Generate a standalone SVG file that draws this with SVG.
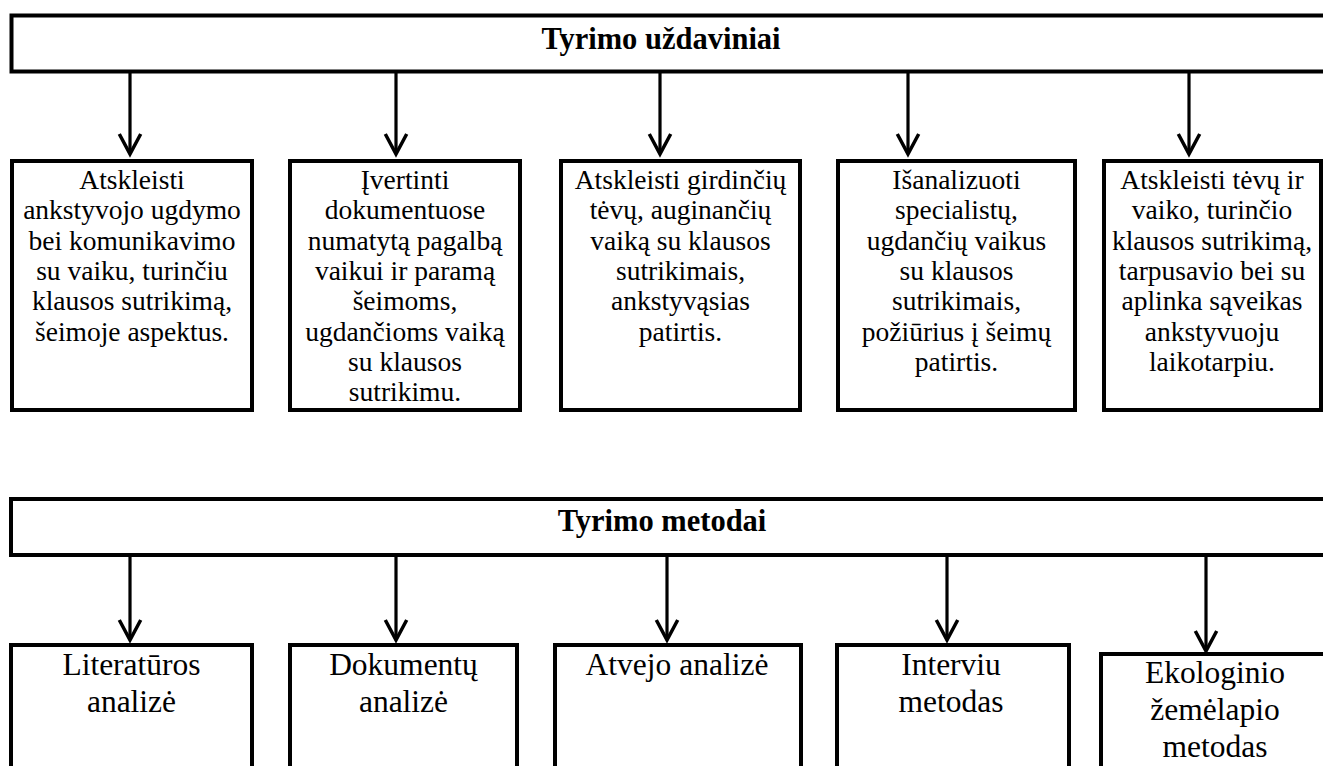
<svg xmlns="http://www.w3.org/2000/svg" width="1323" height="766" viewBox="0 0 1323 766">
<style>
.box{fill:#fff;stroke:#000;stroke-width:4}
.con{stroke:#000;stroke-width:3.2;fill:none}
.hd{font-family:"Liberation Serif","Times New Roman",serif;font-weight:bold;font-size:30.5px;text-anchor:middle;fill:#000}
.t{font-family:"Liberation Serif","Times New Roman",serif;font-size:27.5px;text-anchor:middle;fill:#000}
.m{font-family:"Liberation Serif","Times New Roman",serif;font-size:31.5px;text-anchor:middle;fill:#000}
</style>
<defs>
<marker id="ah" markerUnits="userSpaceOnUse" orient="auto" refX="0" refY="0" markerWidth="30" markerHeight="30" viewBox="-25 -15 30 30" overflow="visible">
<path d="M-20,-10.7 L0,0 L-20,10.7" fill="none" stroke="#000" stroke-width="3.5" stroke-linejoin="miter"/>
</marker>
</defs>
<rect width="1323" height="766" fill="#fff"/>

<g id="connectors">
<line class="con" x1="130" y1="73" x2="130" y2="154" marker-end="url(#ah)"/>
<line class="con" x1="396" y1="73" x2="396" y2="154" marker-end="url(#ah)"/>
<line class="con" x1="660" y1="73" x2="660" y2="154" marker-end="url(#ah)"/>
<line class="con" x1="908" y1="73" x2="908" y2="154" marker-end="url(#ah)"/>
<line class="con" x1="1189" y1="73" x2="1189" y2="154" marker-end="url(#ah)"/>
<line class="con" x1="130" y1="557" x2="130" y2="640" marker-end="url(#ah)"/>
<line class="con" x1="396" y1="557" x2="396" y2="640" marker-end="url(#ah)"/>
<line class="con" x1="667" y1="557" x2="667" y2="640" marker-end="url(#ah)"/>
<line class="con" x1="947" y1="557" x2="947" y2="640" marker-end="url(#ah)"/>
<line class="con" x1="1206" y1="557" x2="1206" y2="651" marker-end="url(#ah)"/>
</g>

<g id="hdr-tasks">
<rect class="box" x="11.5" y="15.5" width="1330" height="56"/>
<text class="hd" x="661" y="49">Tyrimo uždaviniai</text>
</g>

<g id="task1">
<rect class="box" x="12" y="161" width="240" height="249"/>
<text class="t" y="189"><tspan x="132">Atskleisti</tspan><tspan x="132" dy="30.3">ankstyvojo ugdymo</tspan><tspan x="132" dy="30.3">bei komunikavimo</tspan><tspan x="132" dy="30.3">su vaiku, turinčiu</tspan><tspan x="132" dy="30.3">klausos sutrikimą,</tspan><tspan x="132" dy="30.3">šeimoje aspektus.</tspan></text>
</g>

<g id="task2">
<rect class="box" x="290" y="161" width="230" height="249"/>
<text class="t" y="189"><tspan x="405">Įvertinti</tspan><tspan x="405" dy="30.3">dokumentuose</tspan><tspan x="405" dy="30.3">numatytą pagalbą</tspan><tspan x="405" dy="30.3">vaikui ir paramą</tspan><tspan x="405" dy="30.3">šeimoms,</tspan><tspan x="405" dy="30.3">ugdančioms vaiką</tspan><tspan x="405" dy="30.3">su klausos</tspan><tspan x="405" dy="30.3">sutrikimu.</tspan></text>
</g>

<g id="task3">
<rect class="box" x="561" y="161" width="239" height="249"/>
<text class="t" y="189"><tspan x="680.5">Atskleisti girdinčių</tspan><tspan x="680.5" dy="30.3">tėvų, auginančių</tspan><tspan x="680.5" dy="30.3">vaiką su klausos</tspan><tspan x="680.5" dy="30.3">sutrikimais,</tspan><tspan x="680.5" dy="30.3">ankstyvąsias</tspan><tspan x="680.5" dy="30.3">patirtis.</tspan></text>
</g>

<g id="task4">
<rect class="box" x="838" y="161" width="237" height="249"/>
<text class="t" y="189"><tspan x="956.5">Išanalizuoti</tspan><tspan x="956.5" dy="30.3">specialistų,</tspan><tspan x="956.5" dy="30.3">ugdančių vaikus</tspan><tspan x="956.5" dy="30.3">su klausos</tspan><tspan x="956.5" dy="30.3">sutrikimais,</tspan><tspan x="956.5" dy="30.3">požiūrius į šeimų</tspan><tspan x="956.5" dy="30.3">patirtis.</tspan></text>
</g>

<g id="task5">
<rect class="box" x="1104" y="161" width="217" height="249"/>
<text class="t" y="189"><tspan x="1212">Atskleisti tėvų ir</tspan><tspan x="1212" dy="30.3">vaiko, turinčio</tspan><tspan x="1212" dy="30.3">klausos sutrikimą,</tspan><tspan x="1212" dy="30.3">tarpusavio bei su</tspan><tspan x="1212" dy="30.3">aplinka sąveikas</tspan><tspan x="1212" dy="30.3">ankstyvuoju</tspan><tspan x="1212" dy="30.3">laikotarpiu.</tspan></text>
</g>

<g id="hdr-methods">
<rect class="box" x="11" y="499" width="1330" height="56"/>
<text class="hd" x="662" y="531">Tyrimo metodai</text>
</g>

<g id="method1">
<rect class="box" x="11" y="645" width="241" height="140"/>
<text class="m" y="675"><tspan x="131.5">Literatūros</tspan><tspan x="131.5" dy="37">analizė</tspan></text>
</g>

<g id="method2">
<rect class="box" x="290" y="645" width="227" height="140"/>
<text class="m" y="675"><tspan x="403.5">Dokumentų</tspan><tspan x="403.5" dy="37">analizė</tspan></text>
</g>

<g id="method3">
<rect class="box" x="555" y="645" width="246" height="140"/>
<text class="m" x="677" y="675">Atvejo analizė</text>
</g>

<g id="method4">
<rect class="box" x="837" y="645" width="232" height="140"/>
<text class="m" y="675"><tspan x="951">Interviu</tspan><tspan x="951" dy="37">metodas</tspan></text>
</g>

<g id="method5">
<rect class="box" x="1101" y="654" width="228" height="140"/>
<text class="m" y="683"><tspan x="1215">Ekologinio</tspan><tspan x="1215" dy="37">žemėlapio</tspan><tspan x="1215" dy="37">metodas</tspan></text>
</g>
</svg>
